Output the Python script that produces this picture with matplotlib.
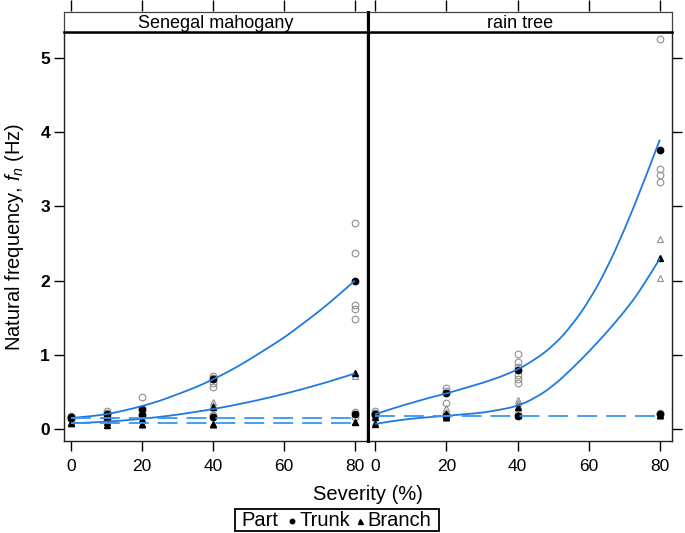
import matplotlib
matplotlib.use("Agg")
import matplotlib.pyplot as plt
from matplotlib.lines import Line2D
from matplotlib.patches import Rectangle, PathPatch
from matplotlib.path import Path

plt.rcParams["font.family"] = ["Liberation Sans", "DejaVu Sans"]
plt.rcParams["mathtext.fontset"] = "custom"
plt.rcParams["mathtext.rm"] = "Liberation Sans"
plt.rcParams["mathtext.it"] = "Liberation Sans:italic"

# ---- data ----
panels = ["Senegal mahogany", "rain tree"]

# Senegal mahogany
mah_sev = [0, 10, 20, 40, 80]
mah_trunk_mean = [0.15, 0.20, 0.27, 0.67, 1.99]
mah_branch_mean = [0.08, 0.10, 0.14, 0.30, 0.75]
mah_trunk_low_mean = [0.16, 0.15, 0.19, 0.17, 0.21]
mah_branch_low_mean = [0.08, 0.06, 0.07, 0.07, 0.09]
mah_trunk_obs_x = [0, 0, 10, 10, 10, 20, 20, 20, 40, 40, 40, 40, 80, 80, 80, 80, 80, 80, 80, 40, 10]
mah_trunk_obs_y = [0.13, 0.18, 0.17, 0.22, 0.24, 0.43, 0.24, 0.21, 0.72, 0.69, 0.62, 0.57,
                   2.78, 2.37, 1.67, 1.62, 1.49, 0.23, 0.17, 0.19, 0.14]
mah_branch_obs_x = [0, 10, 10, 20, 20, 40, 40, 40, 40, 80, 80]
mah_branch_obs_y = [0.10, 0.05, 0.13, 0.05, 0.12, 0.37, 0.33, 0.22, 0.05, 0.72, 0.10]

# rain tree
rain_sev = [0, 20, 40, 80]
rain_trunk_mean = [0.20, 0.48, 0.80, 3.76]
rain_branch_mean = [0.07, 0.20, 0.30, 2.30]
rain_trunk_low_mean = [0.19, 0.18, 0.18, 0.20]
rain_branch_low_mean = [0.17, 0.16, 0.19, 0.19]
rain_trunk_obs_x = [0, 0, 20, 20, 20, 40, 40, 40, 40, 40, 40, 80, 80, 80, 80, 40, 80, 20]
rain_trunk_obs_y = [0.24, 0.22, 0.56, 0.52, 0.35, 1.01, 0.90, 0.84, 0.73, 0.67, 0.62,
                    5.25, 3.50, 3.42, 3.33, 0.20, 0.22, 0.20]
rain_branch_obs_x = [0, 20, 20, 20, 40, 40, 80, 80, 80]
rain_branch_obs_y = [0.09, 0.28, 0.23, 0.15, 0.39, 0.35, 2.56, 2.03, 0.18]

# fitted curves, read every 5 % severity
fit_x = [0, 5, 10, 15, 20, 25, 30, 35, 40, 45, 50, 55, 60, 65, 70, 75, 80]
mah_trunk_fit = [0.15, 0.17, 0.20, 0.25, 0.31, 0.38, 0.47, 0.56, 0.67, 0.79, 0.93,
                 1.08, 1.23, 1.41, 1.59, 1.79, 2.00]
mah_branch_fit = [0.08, 0.088, 0.10, 0.117, 0.139, 0.165, 0.195, 0.231, 0.27, 0.314,
                  0.363, 0.416, 0.474, 0.536, 0.603, 0.674, 0.75]
rain_trunk_fit = [0.20, 0.28, 0.35, 0.42, 0.48, 0.55, 0.62, 0.70, 0.80, 0.94, 1.12,
                  1.38, 1.72, 2.15, 2.68, 3.27, 3.90]
rain_branch_fit = [0.07, 0.11, 0.14, 0.16, 0.18, 0.20, 0.22, 0.26, 0.31, 0.42, 0.58,
                   0.80, 1.04, 1.30, 1.58, 1.90, 2.30]
# constant (dashed) fits
mah_low_levels = [0.15, 0.085]
rain_low_levels = [0.18]

xticks = [0, 20, 40, 60, 80]
yticks = [0, 1, 2, 3, 4, 5]

# ---- figure ----
W, H = 685, 533
fig = plt.figure(figsize=(W / 100, H / 100), dpi=100)


def fx(px):
    return px / W


def fy(py):
    return 1 - py / H


def smooth_curve(ax, xs, ys, **kw):
    # quadratic bezier through the read points (points used as control points)
    verts = [(xs[0], ys[0])]
    codes = [Path.MOVETO]
    for k in range(1, len(xs) - 1):
        mx = (xs[k] + xs[k + 1]) / 2
        my = (ys[k] + ys[k + 1]) / 2
        if k == len(xs) - 2:
            mx, my = xs[-1], ys[-1]
        verts += [(xs[k], ys[k]), (mx, my)]
        codes += [Path.CURVE3, Path.CURVE3]
    ax.add_patch(PathPatch(Path(verts, codes), fill=False, **kw))


BLUE = "#1f7ae0"
DBLUE = "#3a95ee"
GREY = "#8f8f8f"

panel_px = [(64, 367), (368, 672)]
top_px, bot_px, strip_top = 32, 441, 12

data = [
    (mah_sev, mah_trunk_mean, mah_branch_mean, mah_trunk_low_mean, mah_branch_low_mean,
     mah_trunk_obs_x, mah_trunk_obs_y, mah_branch_obs_x, mah_branch_obs_y,
     mah_trunk_fit, mah_branch_fit, mah_low_levels),
    (rain_sev, rain_trunk_mean, rain_branch_mean, rain_trunk_low_mean, rain_branch_low_mean,
     rain_trunk_obs_x, rain_trunk_obs_y, rain_branch_obs_x, rain_branch_obs_y,
     rain_trunk_fit, rain_branch_fit, rain_low_levels),
]

for i, (name, (x0, x1), d) in enumerate(zip(panels, panel_px, data)):
    (sev, tm, bm, tlm, blm, tox, toy, box, boy, tfit, bfit, lows) = d
    ax = fig.add_axes([fx(x0), fy(bot_px), fx(x1 - x0), (bot_px - top_px) / H])
    ax.set_xlim(-2.0, 83.4)
    ax.set_ylim(-0.16, 5.35)

    ax.plot(tox, toy, "o", mfc="none", mec=GREY, ms=4.8, mew=0.8, zorder=2)
    ax.plot(box, boy, "^", mfc="none", mec=GREY, ms=4.8, mew=0.8, zorder=2)
    ax.plot(sev, tlm, "o", color="black", ms=4.6, zorder=3)
    ax.plot(sev, blm, "^", color="black", ms=4.6, zorder=3)
    ax.plot(sev, tm, "o", color="black", ms=4.6, zorder=3)
    ax.plot(sev, bm, "^", color="black", ms=4.6, zorder=3)

    smooth_curve(ax, fit_x, tfit, ec=BLUE, lw=1.3, zorder=4)
    smooth_curve(ax, fit_x, bfit, ec=BLUE, lw=1.3, zorder=4)
    for lv in lows:
        ax.plot([0, 80], [lv, lv], color=DBLUE, lw=1.3, dashes=(11, 5), zorder=4)

    ax.set_xticks(xticks)
    ax.set_yticks(yticks)
    ax.tick_params(axis="both", direction="out", length=7, width=1.0, labelsize=12.5,
                   colors="black", top=True, labeltop=False)
    ax.tick_params(axis="x", pad=6)
    if i == 0:
        ax.tick_params(axis="y", left=True, right=False, labelleft=True, pad=3)
        for lab in ax.get_yticklabels():
            lab.set_fontweight("bold")
        ax.set_ylabel(r"Natural frequency, $f_n$ (Hz)", fontsize=14.5, labelpad=10)
    else:
        ax.tick_params(axis="y", left=False, right=True, labelleft=False)
    for s in ax.spines.values():
        s.set_linewidth(1.0)
        s.set_color("#222222")

    # strip
    sax = fig.add_axes([fx(x0), fy(top_px), fx(x1 - x0), (top_px - strip_top) / H])
    sax.set_xticks([])
    sax.set_yticks([])
    for s in sax.spines.values():
        s.set_linewidth(0.9)
        s.set_color("#444444")
    sax.spines["bottom"].set_linewidth(1.8)
    sax.spines["bottom"].set_color("black")
    sax.text(0.5, 0.45, name, ha="center", va="center", fontsize=13, transform=sax.transAxes)

    # top ticks above the strip
    tax = fig.add_axes([fx(x0), fy(strip_top), fx(x1 - x0), 0.001], frameon=False)
    tax.set_xlim(-2.0, 83.4)
    tax.set_xticks(xticks)
    tax.set_yticks([])
    tax.tick_params(axis="x", direction="out", bottom=False, top=True, labelbottom=False,
                    length=8, width=1.0)

# divider between panels
fig.add_artist(Line2D([fx(368), fx(368)], [fy(strip_top), fy(bot_px)], color="black",
                      lw=2.2, transform=fig.transFigure))

fig.text(fx(368), fy(495), "Severity (%)", ha="center", va="center", fontsize=14.5)

# key
lx0, lx1, ly0, ly1 = 235, 439, 509, 531
fig.add_artist(Rectangle((fx(lx0), fy(ly1)), fx(lx1 - lx0), (ly1 - ly0) / H, fill=False,
                         ec="black", lw=1.3, transform=fig.transFigure))
ymid = fy((ly0 + ly1) / 2 + 0.5)
fig.text(fx(241), ymid, "Part", ha="left", va="center", fontsize=14.5)
fig.add_artist(Line2D([fx(292)], [ymid], marker="o", color="black", ms=3.2,
                      transform=fig.transFigure))
fig.text(fx(299), ymid, "Trunk", ha="left", va="center", fontsize=14.5)
fig.add_artist(Line2D([fx(360)], [ymid], marker="^", color="black", ms=3.6,
                      transform=fig.transFigure))
fig.text(fx(367), ymid, "Branch", ha="left", va="center", fontsize=14.5)

fig.savefig("out.png", dpi=100)
